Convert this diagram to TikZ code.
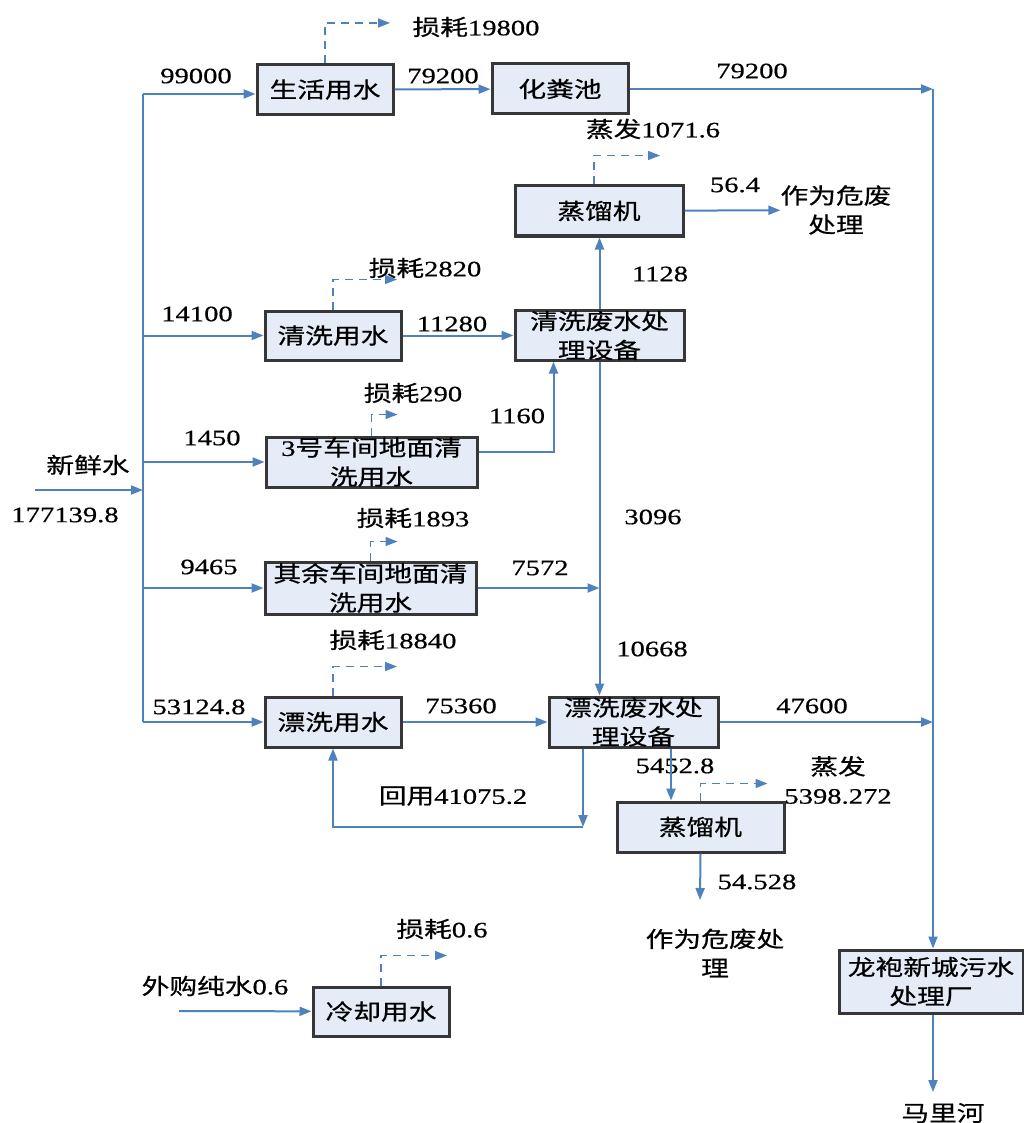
\documentclass[tikz,border=0pt]{standalone}
\usepackage{fontspec}
\setmainfont[FakeStretch=1.3,FakeBold=0.6]{Liberation Serif}
\newfontfamily\zh[FakeStretch=1.26,FakeBold=0.6]{Noto Sans CJK SC}
\usetikzlibrary{arrows.meta}
\definecolor{flowblue}{RGB}{79,129,189}
\definecolor{boxfill}{RGB}{230,236,247}
\definecolor{boxline}{RGB}{55,55,55}

\begin{document}
\begin{tikzpicture}[x=1pt,y=-1pt,
    every node/.style={font=\fontsize{22}{29}\selectfont,inner sep=0pt,align=center},
    unit/.style={draw=boxline,line width=3pt,fill=boxfill,minimum height=50pt},
    flow/.style={flowblue,line width=2pt,-{Triangle[length=12pt,width=9pt]}},
    loss/.style={flow,line width=1.6pt,dash pattern=on 8pt off 6pt}]
  \useasboundingbox (0,0) rectangle (1023,1123);
  \node[unit,minimum width=136pt] (life) at (325,89.5) {\zh 生活用水};
  \node[unit,minimum width=136pt] (septic) at (560,89) {\zh 化粪池};
  \node[unit,minimum width=168pt] (still1) at (599,211) {\zh 蒸馏机};
  \node[unit,minimum width=169pt,minimum height=49pt] (cleanTreat) at (599.5,335.5) {\zh 清洗废水处\\\zh 理设备};
  \node[unit,minimum width=136pt,minimum height=49pt] (clean) at (333,335.5) {\zh 清洗用水};
  \node[unit,minimum width=211pt] (floor3) at (371.5,462) {3{\zh 号车间地面清}\\\zh 洗用水};
  \node[unit,minimum width=211pt,minimum height=52pt] (floorRest) at (370.5,588) {\zh 其余车间地面清\\\zh 洗用水};
  \node[unit,minimum width=136pt] (rinse) at (333,722) {\zh 漂洗用水};
  \node[unit,minimum width=169pt] (rinseTreat) at (633.5,722) {\zh 漂洗废水处\\\zh 理设备};
  \node[unit,minimum width=167pt] (still2) at (700.5,827) {\zh 蒸馏机};
  \node[unit,minimum width=136pt,minimum height=49pt] (cool) at (381,1011.5) {\zh 冷却用水};
  \node[unit,minimum width=184pt,minimum height=63pt] (plant) at (931,981.5) {\zh 龙袍新城污水\\\zh 处理厂};

  \node (haz1) at (836,210) {\zh 作为危废\\\zh 处理};
  \node (haz2) at (715,953) {\zh 作为危废处\\\zh 理};
  \node (river) at (943,1113) {\zh 马里河};
  \node (fresh) at (88,465) {\zh 新鲜水};
  \node (freshq) at (65,515) {177139.8};
  \node (buyq) at (215,986) {{\zh 外购纯水}0.6};

  \node (q99000) at (196,76) {99000};
  \node (q14100) at (197,314) {14100};
  \node (q1450) at (212,438) {1450};
  \node (q9465) at (209,567) {9465};
  \node (q53124) at (199,707) {53124.8};
  \node (q79200a) at (443,76) {79200};
  \node (q79200b) at (752,71) {79200};
  \node (q564) at (735,185) {56.4};
  \node (q1128) at (660,274) {1128};
  \node (q11280) at (452,324) {11280};
  \node (q1160) at (517,416) {1160};
  \node (q3096) at (653,517) {3096};
  \node (q7572) at (540,568) {7572};
  \node (q10668) at (652,649) {10668};
  \node (q75360) at (461,706) {75360};
  \node (q47600) at (812,706) {47600};
  \node (q5452) at (675,766) {5452.8};
  \node (q54528) at (757,882) {54.528};
  \node (qback) at (453,796) {{\zh 回用}41075.2};

  \node (lossLife) at (476,27) {{\zh 损耗}19800};
  \node (lossStill1) at (653,129) {{\zh 蒸发}1071.6};
  \node (lossClean) at (425,268) {{\zh 损耗}2820};
  \node (lossFloor3) at (413,393) {{\zh 损耗}290};
  \node (lossFloorRest) at (413,518) {{\zh 损耗}1893};
  \node (lossRinse) at (393,640) {{\zh 损耗}18840};
  \node (lossStill2) at (838,780) {\zh 蒸发\\5398.272};
  \node (lossCool) at (442,929) {{\zh 损耗}0.6};

  \coordinate (mtop) at (143,94);
  \coordinate (mbot) at (143,722);
  \coordinate (src) at (35,490);
  \coordinate (r1) at (933,89);
  \coordinate (ret) at (583,827);
  \coordinate (buy) at (179,1011);
  \coordinate (haz2end) at (700,900);
  \coordinate (outlet) at (933,1092);

  \draw[flow] (src) -- (src -| mtop);
  \draw[flowblue,line width=2pt] (mtop) -- (mbot);
  \draw[flow] (mtop) -- (mtop -| life.west);
  \draw[flow] (mtop |- clean.west) -- (clean.west);
  \draw[flow] (mtop |- floor3.west) -- (floor3.west);
  \draw[flow] (mtop |- floorRest.west) -- (floorRest.west);
  \draw[flow] (mbot) -- (rinse.west);
  \draw[flow] (life) -- (septic);
  \draw[flow] (septic) -- (r1);
  \draw[flow] (r1) -- (r1 |- plant.north);
  \draw[flow] (plant.south -| outlet) -- (outlet);
  \draw[flow] (clean) -- (cleanTreat);
  \draw[flow] ([yshift=10pt]floor3.east) -| ([xshift=-46pt]cleanTreat.south);
  \draw[flow] (cleanTreat.north) -- (cleanTreat.north |- still1.south);
  \draw[flow] (cleanTreat.south) -- (cleanTreat.south |- rinseTreat.north);
  \draw[flow] (floorRest) -- (floorRest -| cleanTreat.south);
  \draw[flow] (rinse) -- (rinseTreat);
  \draw[flow] (rinseTreat) -- (rinseTreat -| r1);
  \draw[flow] (rinseTreat.south -| ret) -- (ret);
  \draw[flow] (ret) -| (rinse.south);
  \draw[flow] ([xshift=37.5pt]rinseTreat.south) -- ([xshift=-29.5pt]still2.north);
  \draw[flow] (still1) -- (haz1);
  \draw[flow] (still2.south) -- (haz2end);
  \draw[flow] (buy) -- (cool);

  \draw[loss] (life.north) |- ++(65,-40);
  \draw[loss] ([xshift=-5pt]still1.north) |- ++(66,-29);
  \draw[loss] (clean.north) |- ++(64,-30);
  \draw[loss] (floor3.north) |- ++(26,-21);
  \draw[loss] (floorRest.north) |- ++(27,-19);
  \draw[loss] (rinse.north) |- ++(64,-29);
  \draw[loss] (still2.north) |- ++(67,-17);
  \draw[loss] (cool.north) |- ++(66,-30);
\end{tikzpicture}
\end{document}
